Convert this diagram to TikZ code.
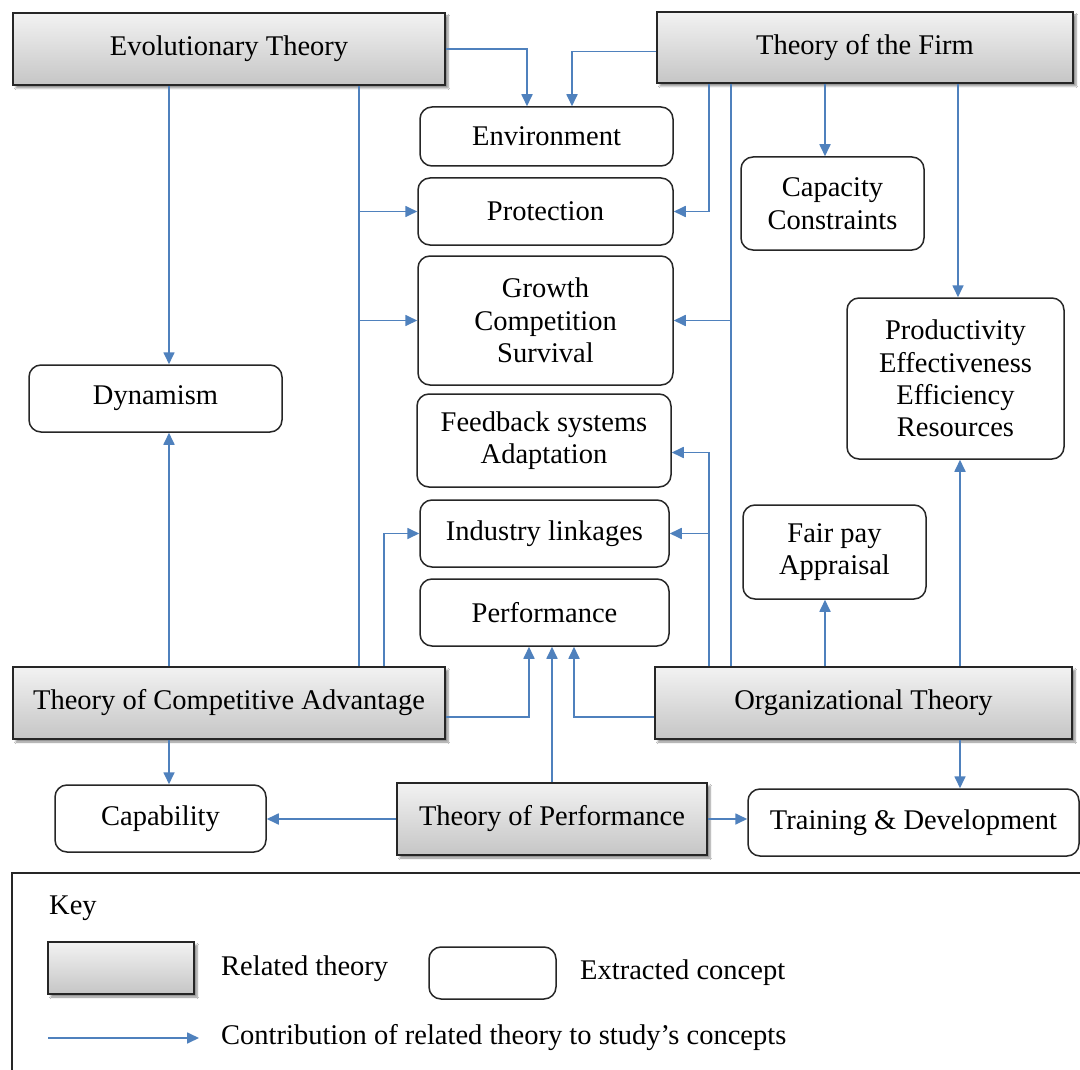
\documentclass[tikz,border=0pt]{standalone}
\usepackage{fontspec}
\setmainfont{Liberation Serif}
\usetikzlibrary{arrows.meta,shadows.blur}
\definecolor{linkblue}{RGB}{79,129,189}
\begin{document}
\begin{tikzpicture}[x=1pt,y=-1pt,
  txt/.style={font=\fontsize{28.5}{32.5}\selectfont, align=center, text=black},
  theory/.style={txt, draw=black!85, line width=1.8pt, top color=gray!10, bottom color=gray!45,
    blur shadow={shadow xshift=3pt, shadow yshift=-3pt, shadow blur steps=6, shadow opacity=45},
    inner sep=0pt},
  concept/.style={txt, draw=black!85, line width=1.5pt, rounded corners=12pt, fill=white, inner sep=0pt},
  conn/.style={draw=linkblue, line width=1.7pt},
  arr/.style={conn, -{Triangle[length=12pt,width=11pt]}}]
\useasboundingbox (0,0) rectangle (1080,1070);
\fill[white] (0,0) rectangle (1080,1070);

% related theories
\node[theory, minimum width=432, minimum height=72] (evo) at (229,49) {Evolutionary Theory};
\node[theory, minimum width=416, minimum height=71] (firm) at (865,47.5) {Theory of the Firm};
\node[theory, minimum width=432, minimum height=72] (tca) at (229,703) {Theory of Competitive Advantage};
\node[theory, minimum width=417, minimum height=72] (org) at (863.5,703) {Organizational Theory};
\node[theory, minimum width=310, minimum height=72] (tperf) at (552,819) {Theory of Performance};

% extracted concepts
\node[concept, minimum width=253, minimum height=59] (env) at (546.5,136.5) {Environment};
\node[concept, minimum width=255, minimum height=67] (prot) at (545.5,211.5) {Protection};
\node[concept, minimum width=255, minimum height=129] (growth) at (545.5,320.5) {Growth\\Competition\\Survival};
\node[concept, minimum width=183, minimum height=93] (cap) at (832.5,203.5) {Capacity\\Constraints};
\node[concept, minimum width=217, minimum height=161] (prod) at (955.5,378.5) {Productivity\\Effectiveness\\Efficiency\\Resources};
\node[concept, minimum width=253, minimum height=67] (dyn) at (155.5,398.5) {Dynamism};
\node[concept, minimum width=254, minimum height=93] (feed) at (544,440.5) {Feedback systems\\Adaptation};
\node[concept, minimum width=249, minimum height=67] (ind) at (544.5,533.5) {Industry linkages};
\node[concept, minimum width=249, minimum height=67] (perf) at (544.5,612.5) {Performance};
\node[concept, minimum width=183, minimum height=94] (fair) at (834.5,552) {Fair pay\\Appraisal};
\node[concept, minimum width=211, minimum height=67] (capab) at (160.5,818.5) {Capability};
\node[concept, minimum width=331, minimum height=67] (train) at (913.5,822.5) {Training \& Development};

% Evolutionary Theory
\draw[arr] (evo.east) -| ([xshift=-19.5pt]env.north);
\draw[arr] ([xshift=-60pt]evo.south) -- ([xshift=-60pt]evo.south |- dyn.north);
\draw[conn] ([xshift=130pt]evo.south) -- ([xshift=130pt]tca.north);
\draw[arr] ([xshift=130pt]evo.south |- prot.west) -- (prot.west);
\draw[arr] ([xshift=130pt]evo.south |- growth.west) -- (growth.west);

% Theory of the Firm
\draw[arr] ([yshift=-4pt]firm.west) -| ([xshift=25.5pt]env.north);
\draw[arr] ([xshift=-156pt]firm.south) |- (prot.east);
\draw[conn] ([xshift=-134pt]firm.south) -- ([xshift=-134pt]firm.south |- org.north);
\draw[arr] ([xshift=-134pt]firm.south |- growth.east) -- (growth.east);
\draw[arr] ([xshift=-40pt]firm.south) -- ([xshift=-40pt]firm.south |- cap.north);
\draw[arr] ([xshift=93pt]firm.south) -- ([xshift=93pt]firm.south |- prod.north);

% Organizational Theory
\draw[arr] ([xshift=-154.5pt]org.north) |- ([yshift=-12pt]feed.east);
\draw[arr] ([xshift=-154.5pt]org.north |- ind.east) -- (ind.east);
\draw[arr] ([xshift=-38.5pt]org.north) -- ([xshift=-38.5pt]org.north |- fair.south);
\draw[arr] ([xshift=96.5pt]org.north) -- ([xshift=96.5pt]org.north |- prod.south);
\draw[arr] ([xshift=96.5pt]org.south) -- ([xshift=96.5pt]org.south |- train.north);
\draw[arr] ([yshift=-14pt]org.west) -| ([xshift=29.5pt]perf.south);

% Theory of Competitive Advantage
\draw[arr] ([xshift=-60pt]tca.north) -- ([xshift=-60pt]tca.north |- dyn.south);
\draw[arr] ([xshift=155pt]tca.north) |- (ind.west);
\draw[arr] ([yshift=-14pt]tca.east) -| ([xshift=-15.5pt]perf.south);
\draw[arr] ([xshift=-60pt]tca.south) -- ([xshift=-60pt]tca.south |- capab.north);

% Theory of Performance
\draw[arr] (tperf.north) -- (tperf.north |- perf.south);
\draw[arr] (tperf.west) -- (tperf.west -| capab.east);
\draw[arr] (tperf.east) -- (tperf.east -| train.west);

% key
\begin{scope}
\clip (0,0) rectangle (1080,1070);
\draw[black!85, line width=1.5pt] (12,873) rectangle (1100,1090);
\end{scope}
\node[txt, anchor=west, inner sep=0pt] (keylabel) at (49,908) {Key};
\node[theory, minimum width=146, minimum height=52] (keytheory) at (121,968) {};
\node[txt, anchor=west, inner sep=0pt] (keytheorytxt) at (221,969) {Related theory};
\node[concept, minimum width=127, minimum height=52] (keyconcept) at (492.5,973) {};
\node[txt, anchor=west, inner sep=0pt] (keyconcepttxt) at (580,973) {Extracted concept};
\coordinate (keystart) at (48,1038);
\node[txt, anchor=west, inner sep=0pt] (keyarrowtxt) at (221,1038) {Contribution of related theory to study’s concepts};
\draw[arr] (keystart) -- ([xshift=-22pt]keyarrowtxt.west);
\end{tikzpicture}
\end{document}
